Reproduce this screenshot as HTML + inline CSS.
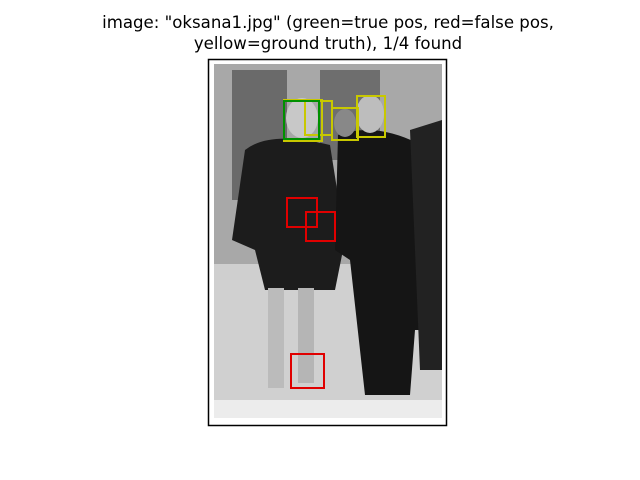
<!DOCTYPE html>
<html><head><meta charset="utf-8"><style>
html,body{margin:0;padding:0;background:#fff;}
svg{display:block;font-family:"Liberation Sans","DejaVu Sans",sans-serif;}
</style></head><body>
<svg id="chart" width="640" height="480" viewBox="0 0 640 480">
<text x="328" y="28" font-size="16.6" text-anchor="middle" fill="#000" font-family="DejaVu Sans, sans-serif">image: "oksana1.jpg" (green=true pos, red=false pos,</text>
<text x="328" y="49" font-size="16.6" text-anchor="middle" fill="#000" font-family="DejaVu Sans, sans-serif">yellow=ground truth), 1/4 found</text>
<rect x="208" y="59" width="239" height="366" fill="#fff"/>
<g id="photo">
  <rect x="214" y="64" width="228" height="354" fill="#cfcfcf"/>
  <rect x="214" y="64" width="228" height="200" fill="#a8a8a8"/>
  <rect x="232" y="70" width="55" height="130" fill="#6a6a6a"/>
  <rect x="320" y="70" width="60" height="90" fill="#6e6e6e"/>
  <rect x="214" y="280" width="228" height="138" fill="#d0d0d0"/>
  <rect x="214" y="400" width="228" height="18" fill="#ececec"/>
  <path d="M245 150 Q270 130 330 145 L345 240 L335 290 L265 290 L255 250 L232 240 Z" fill="#1c1c1c"/>
  <path d="M338 135 Q380 120 430 150 L440 330 L415 330 L410 395 L365 395 L350 260 L335 250 Z" fill="#151515"/>
  <path d="M410 130 L442 120 L442 370 L420 370 Z" fill="#222"/>
  <rect x="268" y="288" width="16" height="100" fill="#bbb"/>
  <rect x="298" y="288" width="16" height="95" fill="#b5b5b5"/>
  <ellipse cx="302" cy="118" rx="16" ry="20" fill="#c8c8c8"/>
  <ellipse cx="370" cy="114" rx="14" ry="19" fill="#bdbdbd"/>
  <ellipse cx="345" cy="123" rx="11" ry="14" fill="#888"/>
</g>
<rect x="208.5" y="59.5" width="238" height="366" fill="none" stroke="#000" stroke-width="1.5"/>
<g id="boxes"></g>
<script>
// image coordinates (px within the 228x354 photo)
const boxKinds = ["truth","truth","truth","truth","falsepos","falsepos","falsepos","truepos"];
const boxX = [70, 91, 118, 143, 73, 92, 77, 70];
const boxY = [36, 37, 44, 32, 134, 148, 290, 37];
const boxW = [38, 27, 26, 28, 30, 29, 33, 35];
const boxH = [41, 34, 32, 41, 29, 29, 34, 38];
const imgW = 228, imgH = 354;
const x0 = 214, y0 = 64, x1 = 442, y1 = 418;
const sx = v => x0 + v * (x1 - x0) / imgW;
const sy = v => y0 + v * (y1 - y0) / imgH;
const colors = {truth:"#c8c800", falsepos:"#e00000", truepos:"#009000"};
const g = document.getElementById('boxes');
for (let i = 0; i < boxKinds.length; i++) {
  const r = document.createElementNS('http://www.w3.org/2000/svg','rect');
  r.setAttribute('x', sx(boxX[i]));
  r.setAttribute('y', sy(boxY[i]));
  r.setAttribute('width', sx(boxX[i] + boxW[i]) - sx(boxX[i]));
  r.setAttribute('height', sy(boxY[i] + boxH[i]) - sy(boxY[i]));
  r.setAttribute('fill', 'none');
  r.setAttribute('stroke', colors[boxKinds[i]]);
  r.setAttribute('stroke-width', '2');
  
  
  g.appendChild(r);
}
</script>
</svg>
</body></html>
